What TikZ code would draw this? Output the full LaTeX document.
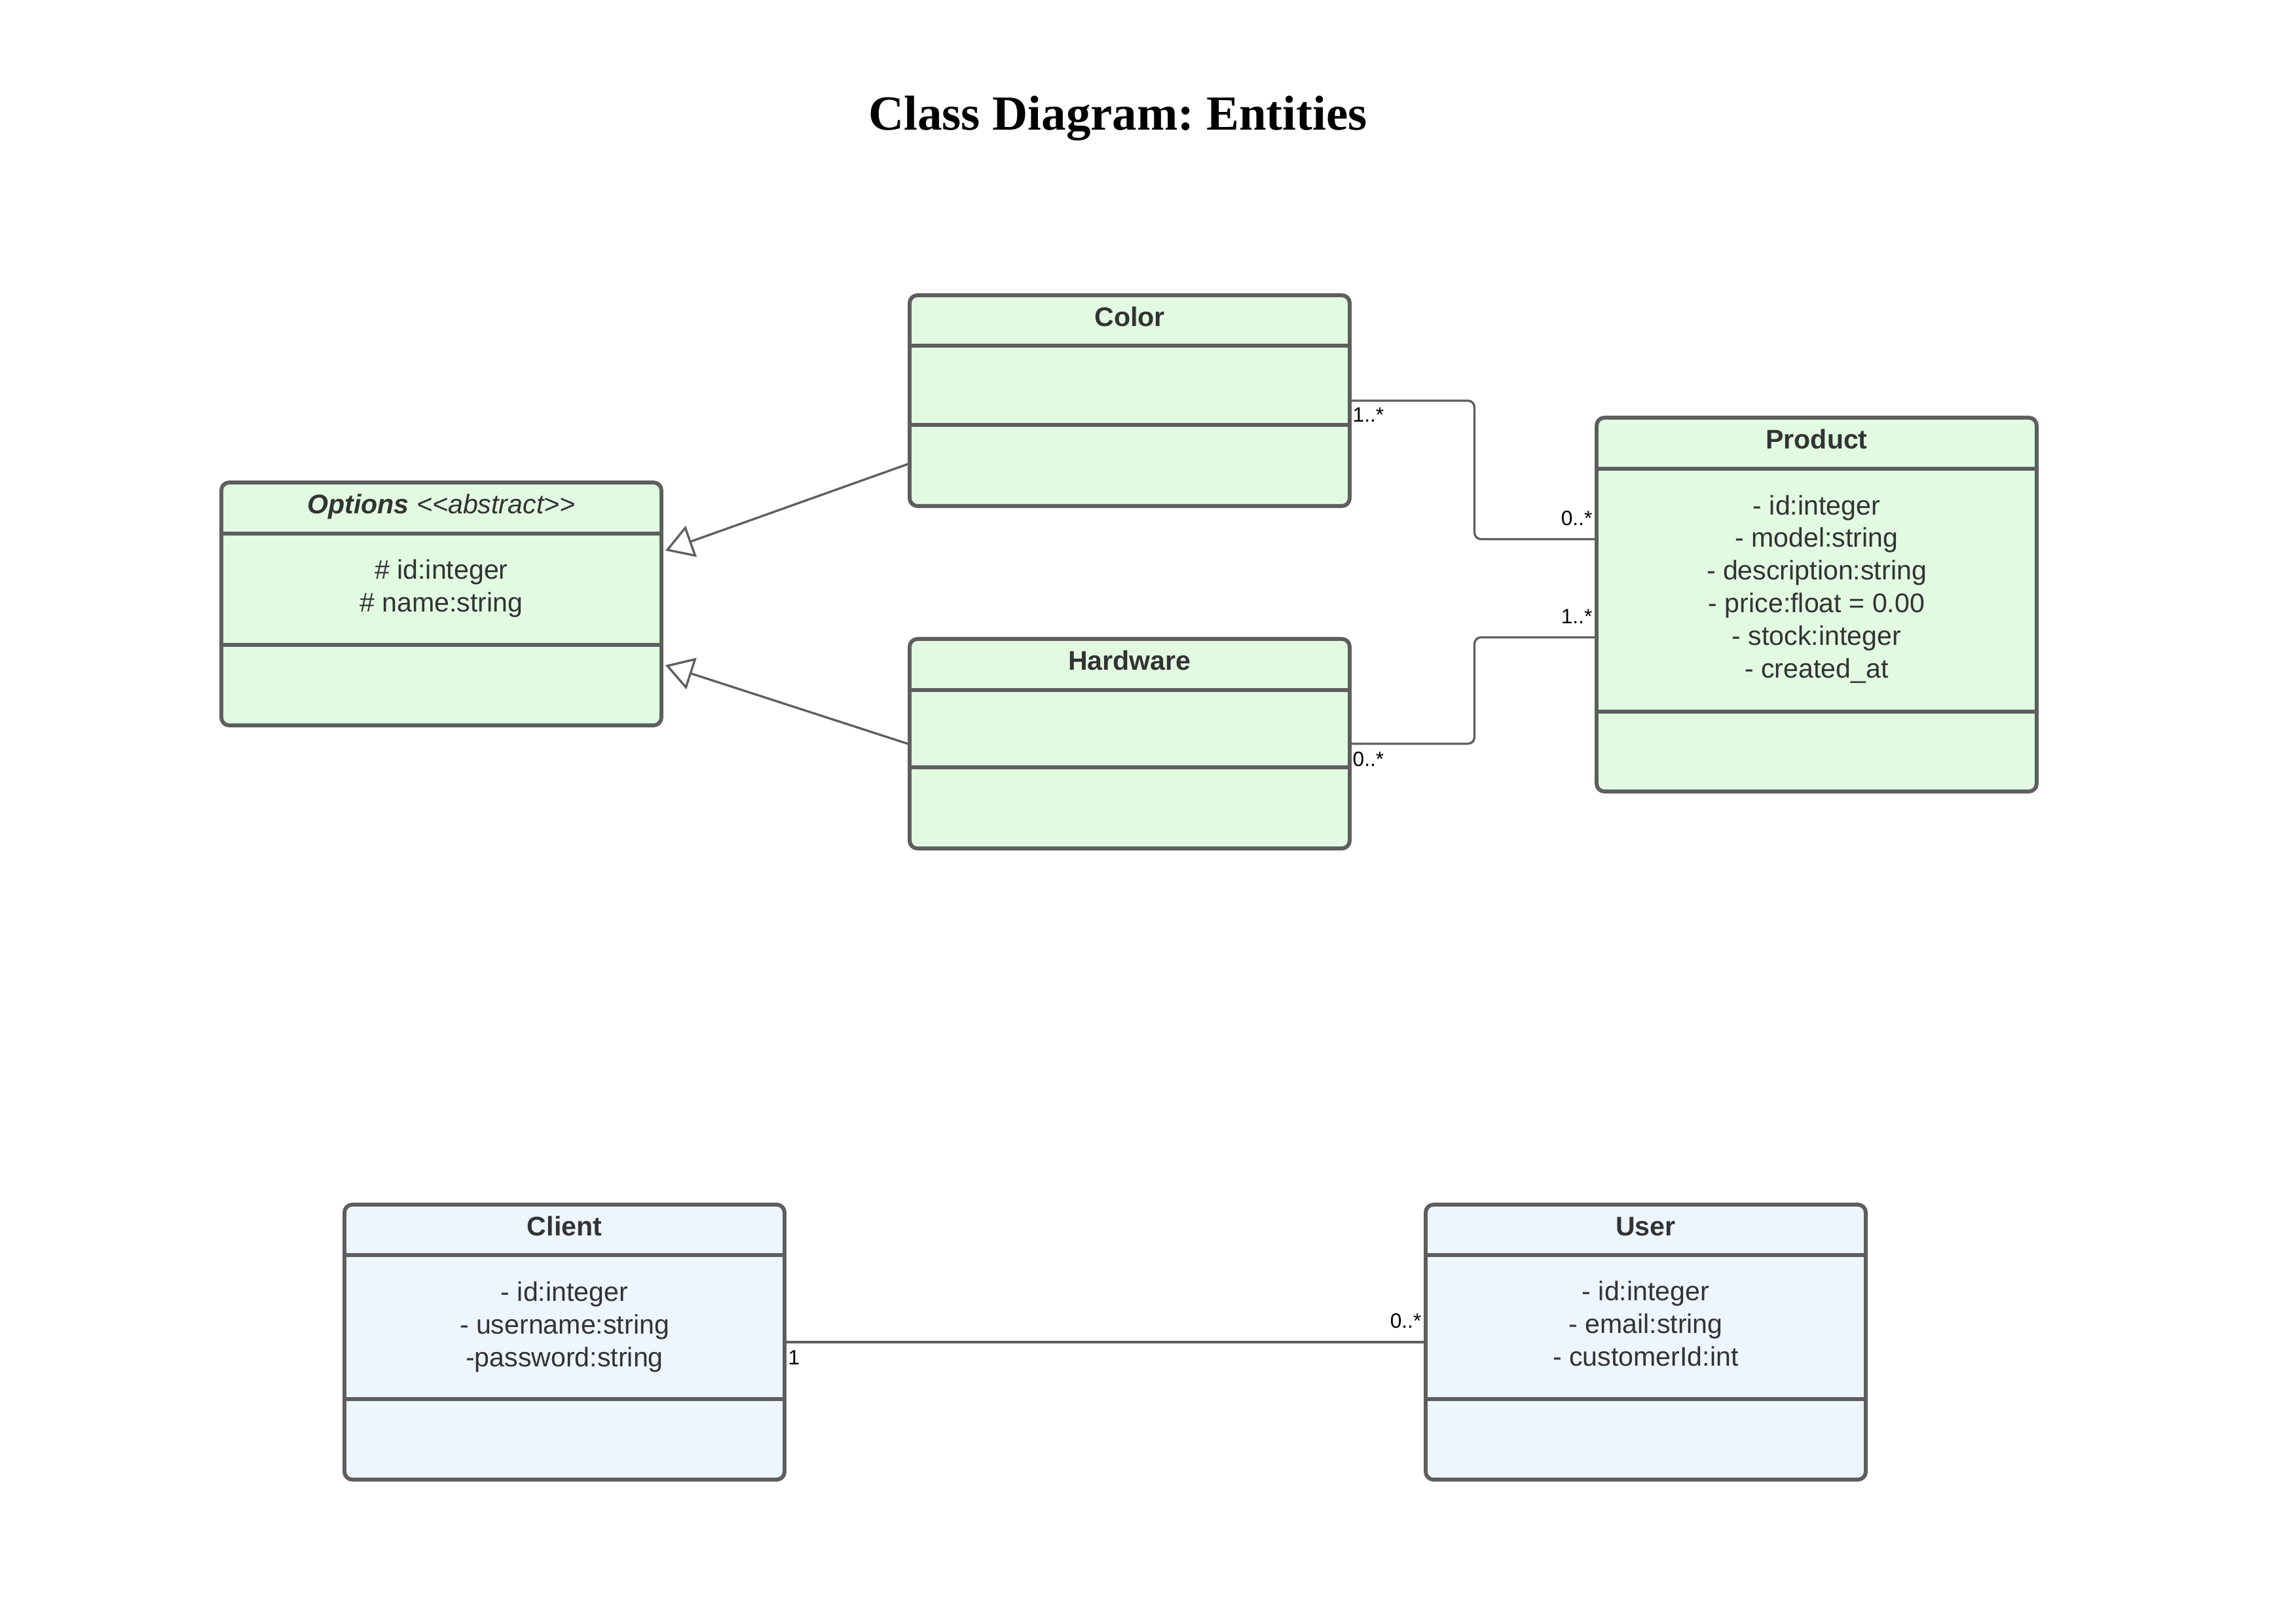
\documentclass[tikz,border=0pt]{standalone}
\usepackage{fontspec}
\setmainfont{Liberation Sans}
\newfontfamily\serifhead{Liberation Serif}
\usetikzlibrary{positioning,arrows.meta}
\definecolor{boxline}{HTML}{5E5E5E}
\definecolor{greenfill}{HTML}{E2F9E2}
\definecolor{bluefill}{HTML}{EDF5FF}
\definecolor{textgray}{HTML}{333333}

\begin{document}
\begin{tikzpicture}[
  classbox/.style = {draw=boxline, line width=1.7pt, rounded corners=0.12cm, minimum width=6.72cm, inner sep=0pt, anchor=north west},
  greenbox/.style = {classbox, fill=greenfill},
  bluebox/.style = {classbox, fill=bluefill},
  divider/.style = {draw=boxline, line width=1.7pt},
  heading/.style = {font=\serifhead\bfseries\fontsize{21.3}{26}\selectfont\frenchspacing},
  classname/.style = {font=\bfseries\fontsize{11.7}{14.2}\selectfont, text=textgray, text height=8.5pt, text depth=2.5pt},
  attrs/.style = {font=\fontsize{11.7}{14.2}\selectfont, text=textgray, align=center},
  assoc/.style = {draw=boxline, line width=0.95pt, rounded corners=0.1cm},
  inherit/.style = {draw=boxline, line width=0.95pt, -{Triangle[open, length=0.42cm, width=0.5cm]}},
  mult/.style = {font=\fontsize{9}{10}\selectfont, inner sep=0pt}
]
\useasboundingbox (0,0) rectangle (35.06,24.79);

\node [heading] (title) at (17.07,22.98) {Class Diagram: Entities};

% Options
\node [greenbox, minimum height=3.71cm] (options) at (3.35,17.45) {};
\draw [divider] ([yshift=-0.81cm]options.north west) -- ([yshift=-0.81cm]options.north east);
\draw [divider] ([yshift=-2.51cm]options.north west) -- ([yshift=-2.51cm]options.north east);
\node [classname] (optionsname) at ([yshift=-0.4cm]options.north) {\textit{Options} \mdseries\textit{{<}{<}abstract{>}{>}}};
\node [attrs] (optionsattrs) at ([yshift=-1.65cm]options.north) {\# id:integer\\\# name:string};

% Color
\node [greenbox, minimum height=3.22cm] (color) at (13.86,20.31) {};
\draw [divider] ([yshift=-0.8cm]color.north west) -- ([yshift=-0.8cm]color.north east);
\draw [divider] ([yshift=-2.01cm]color.north west) -- ([yshift=-2.01cm]color.north east);
\node [classname] (colorname) at ([yshift=-0.4cm]color.north) {Color};

% Hardware
\node [greenbox, minimum height=3.2cm] (hardware) at (13.86,15.06) {};
\draw [divider] ([yshift=-0.81cm]hardware.north west) -- ([yshift=-0.81cm]hardware.north east);
\draw [divider] ([yshift=-1.99cm]hardware.north west) -- ([yshift=-1.99cm]hardware.north east);
\node [classname] (hardwarename) at ([yshift=-0.4cm]hardware.north) {Hardware};

% Product
\node [greenbox, minimum height=5.71cm] (product) at (24.35,18.44) {};
\draw [divider] ([yshift=-0.81cm]product.north west) -- ([yshift=-0.81cm]product.north east);
\draw [divider] ([yshift=-4.52cm]product.north west) -- ([yshift=-4.52cm]product.north east);
\node [classname] (productname) at ([yshift=-0.4cm]product.north) {Product};
\node [attrs] (productattrs) at ([yshift=-2.65cm]product.north) {- id:integer\\- model:string\\- description:string\\- price:float = 0.00\\- stock:integer\\- created\_at};

% Client
\node [bluebox, minimum height=4.2cm] (client) at (5.23,6.42) {};
\draw [divider] ([yshift=-0.8cm]client.north west) -- ([yshift=-0.8cm]client.north east);
\draw [divider] ([yshift=-3cm]client.north west) -- ([yshift=-3cm]client.north east);
\node [classname] (clientname) at ([yshift=-0.4cm]client.north) {Client};
\node [attrs] (clientattrs) at ([yshift=-1.9cm]client.north) {- id:integer\\- username:string\\-password:string};

% User
\node [bluebox, minimum height=4.2cm] (user) at (21.74,6.42) {};
\draw [divider] ([yshift=-0.8cm]user.north west) -- ([yshift=-0.8cm]user.north east);
\draw [divider] ([yshift=-3cm]user.north west) -- ([yshift=-3cm]user.north east);
\node [classname] (username) at ([yshift=-0.4cm]user.north) {User};
\node [attrs] (userattrs) at ([yshift=-1.85cm]user.north) {- id:integer\\- email:string\\- customerId:int};

% generalisation
\draw [inherit] ([yshift=-2.61cm]color.north west) -- ([xshift=0.03cm, yshift=-1.07cm]options.north east);
\draw [inherit] (hardware.west) -- ([xshift=0.03cm, yshift=-2.82cm]options.north east);

% associations
\draw [assoc] (color.east) -- ++(1.875,0) |- ([yshift=1cm]product.west);
\node [mult, anchor=north west] (colormult) at ([xshift=0.01cm, yshift=-0.1cm]color.east) {1..*};
\node [mult, anchor=south east] (productmulta) at ([xshift=-0.03cm, yshift=1.2cm]product.west) {0..*};

\draw [assoc] (hardware.east) -- ++(1.875,0) |- ([yshift=-0.5cm]product.west);
\node [mult, anchor=north west] (hardwaremult) at ([xshift=0.01cm, yshift=-0.12cm]hardware.east) {0..*};
\node [mult, anchor=south east] (productmultb) at ([xshift=-0.03cm, yshift=-0.3cm]product.west) {1..*};

\draw [assoc] (client.east) -- (user.west);
\node [mult, anchor=north west] (clientmult) at ([xshift=0.02cm, yshift=-0.12cm]client.east) {1};
\node [mult, anchor=south east] (usermult) at ([xshift=-0.03cm, yshift=0.2cm]user.west) {0..*};
\end{tikzpicture}
\end{document}
